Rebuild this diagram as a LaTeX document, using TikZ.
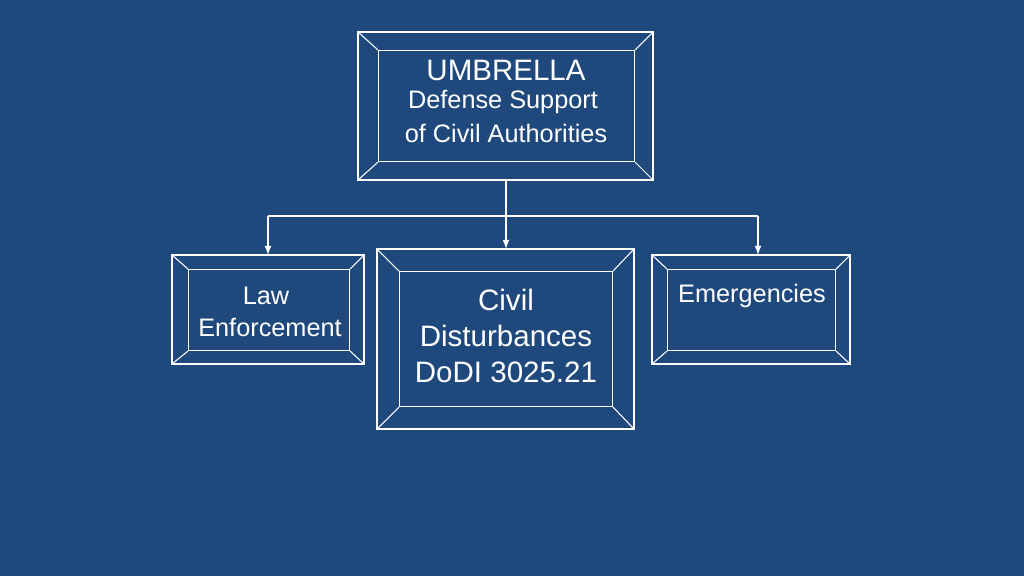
\documentclass[tikz,border=0pt]{standalone}
\usepackage{fontspec}
\setmainfont{Liberation Sans}
\definecolor{slideblue}{RGB}{31,73,125}
\newcommand{\bevelbox}[5]{%
  % outer frame, inner frame and corner bevels
  \draw[frame] (#2,#3) rectangle (#4,#5);
  \node[inner sep=0pt, fit=(#1in)] (#1) {};
  \draw[frame] (#2,#3) -- (#1in.north west);
  \draw[frame] (#4,#3) -- (#1in.north east);
  \draw[frame] (#2,#5) -- (#1in.south west);
  \draw[frame] (#4,#5) -- (#1in.south east);
}
\usetikzlibrary{fit}
\begin{document}
\begin{tikzpicture}[x=0.02cm, y=-0.02cm,
  frame/.style={draw=white, line width=0.6pt},
  inbox/.style={frame, rectangle, inner sep=0pt, anchor=north west},
  label/.style={text=white, inner sep=0pt},
  link/.style={draw=white, line width=1.2pt},
  arr/.style={draw=white, line width=0.8pt, -latex}]
\fill[slideblue] (0,0) rectangle (1024,576);
\useasboundingbox (0,0) rectangle (1024,576);

% inner frames
\node[inbox, minimum width=256*0.02cm, minimum height=111*0.02cm] (topin) at (378,50) {};
\node[inbox, minimum width=161*0.02cm, minimum height=81*0.02cm] (lawin) at (188,269) {};
\node[inbox, minimum width=213*0.02cm, minimum height=135*0.02cm] (civin) at (399,271) {};
\node[inbox, minimum width=168*0.02cm, minimum height=81*0.02cm] (emgin) at (667,269) {};

% bevelled boxes
\bevelbox{top}{358}{32}{653}{180}
\bevelbox{law}{172}{255}{364}{364}
\bevelbox{civ}{377}{249}{634}{429}
\bevelbox{emg}{652}{255}{850}{364}

% texts
\node[label, font=\fontsize{16.8}{18}\selectfont] (umb) at (506,70) {UMBRELLA};
\node[label, font=\fontsize{14.4}{16}\selectfont] (dsca1) at (503,102) {Defense Support};
\node[label, font=\fontsize{14.4}{16}\selectfont] (dsca2) at (506,133) {of Civil Authorities};
\node[label, font=\fontsize{14.4}{16}\selectfont] (law1) at (266,296) {Law};
\node[label, font=\fontsize{14.4}{16}\selectfont] (law2) at (270,327) {Enforcement};
\node[label, font=\fontsize{16.8}{18}\selectfont] (civ1) at (506,300) {Civil};
\node[label, font=\fontsize{16.8}{18}\selectfont] (civ2) at (506,336) {Disturbances};
\node[label, font=\fontsize{16.8}{18}\selectfont] (civ3) at (506,372) {DoDI 3025.21};
\node[label, font=\fontsize{14.4}{16}\selectfont] (emg1) at (752,296) {Emergencies};

% connectors
\coordinate (drop) at (506,180);
\coordinate (split) at (506,216);
\coordinate (lawtop) at (268,216);
\coordinate (emgtop) at (758,216);
\draw[link] (drop) -- (split);
\draw[link] (lawtop) -- (emgtop);
\draw[arr] (lawtop) -- (268,255);
\draw[arr] (split) -- (506,249);
\draw[arr] (emgtop) -- (758,255);
\end{tikzpicture}
\end{document}
